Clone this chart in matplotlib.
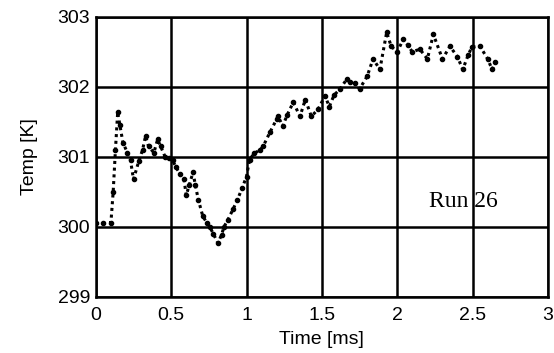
import matplotlib
matplotlib.use("Agg")
import matplotlib.pyplot as plt

# Temperature trace (time in ms, temperature in K)
time_ms = [0.00, 0.05, 0.10, 0.115, 0.13, 0.145, 0.16, 0.18, 0.21, 0.23,
           0.25, 0.285, 0.31, 0.33, 0.35, 0.385, 0.41, 0.43, 0.46, 0.485,
           0.51, 0.53, 0.56, 0.585, 0.60, 0.62, 0.645, 0.66, 0.68, 0.71,
           0.74, 0.756, 0.78, 0.81, 0.835, 0.85, 0.876, 0.91, 0.94, 0.97,
           1.00, 1.02, 1.05, 1.09, 1.11, 1.155, 1.20, 1.21, 1.24, 1.27,
           1.31, 1.355, 1.39, 1.43, 1.475, 1.52, 1.55, 1.58, 1.62, 1.665,
           1.685, 1.72, 1.75, 1.80, 1.84, 1.885, 1.93, 1.96, 2.00, 2.04,
           2.07, 2.10, 2.15, 2.20, 2.24, 2.30, 2.35, 2.40, 2.435, 2.47,
           2.495, 2.55, 2.60, 2.63, 2.65]
temp_k = [300.05, 300.05, 300.06, 300.50, 301.10, 301.64, 301.45, 301.20, 301.06, 300.95,
          300.68, 300.94, 301.10, 301.30, 301.15, 301.06, 301.25, 301.15, 301.00, 300.98,
          300.95, 300.86, 300.75, 300.68, 300.45, 300.60, 300.78, 300.60, 300.39, 300.15,
          300.05, 300.00, 299.90, 299.77, 299.89, 300.00, 300.10, 300.25, 300.39, 300.55,
          300.72, 300.96, 301.05, 301.10, 301.15, 301.35, 301.54, 301.58, 301.44, 301.60,
          301.78, 301.58, 301.82, 301.58, 301.68, 301.87, 301.72, 301.88, 301.97, 302.11,
          302.07, 302.05, 301.97, 302.15, 302.40, 302.25, 302.78, 302.58, 302.50, 302.68,
          302.60, 302.50, 302.54, 302.40, 302.75, 302.40, 302.58, 302.43, 302.25, 302.45,
          302.57, 302.58, 302.40, 302.25, 302.35]

x_ticks = [0, 0.5, 1, 1.5, 2, 2.5, 3]
x_tick_labels = ["0", "0.5", "1", "1.5", "2", "2.5", "3"]
y_ticks = [299, 300, 301, 302, 303]

plt.rcParams['font.family'] = ['Liberation Sans', 'DejaVu Sans']

fig = plt.figure(figsize=(5.54, 3.53), dpi=100)
ax = fig.add_axes([0.173, 0.159, 0.816, 0.793])

ax.plot(time_ms, temp_k, color='black', linestyle=(0, (1, 1.2)), linewidth=2.2)
ax.plot(time_ms, temp_k, color='black', linestyle='none', marker='o', markersize=3)

ax.set_xlim(0, 3)
ax.set_ylim(299, 303)
ax.set_xticks(x_ticks)
ax.set_xticklabels(x_tick_labels)
ax.set_yticks(y_ticks)
ax.grid(True, color='black', linewidth=1.8, zorder=3)
ax.set_axisbelow(False)
for spine in ax.spines.values():
    spine.set_linewidth(1.8)
ax.tick_params(length=0, labelsize=14)
ax.tick_params(axis='x', pad=7)
ax.tick_params(axis='y', pad=4)

ax.set_xlabel('Time [ms]', fontsize=14, labelpad=5)
ax.set_ylabel('Temp [K]', fontsize=14, labelpad=14)

ax.text(2.21, 300.36, 'Run 26', family='Liberation Serif', fontsize=17,
        ha='left', va='center', zorder=1)

fig.savefig('out.png', dpi=100)
